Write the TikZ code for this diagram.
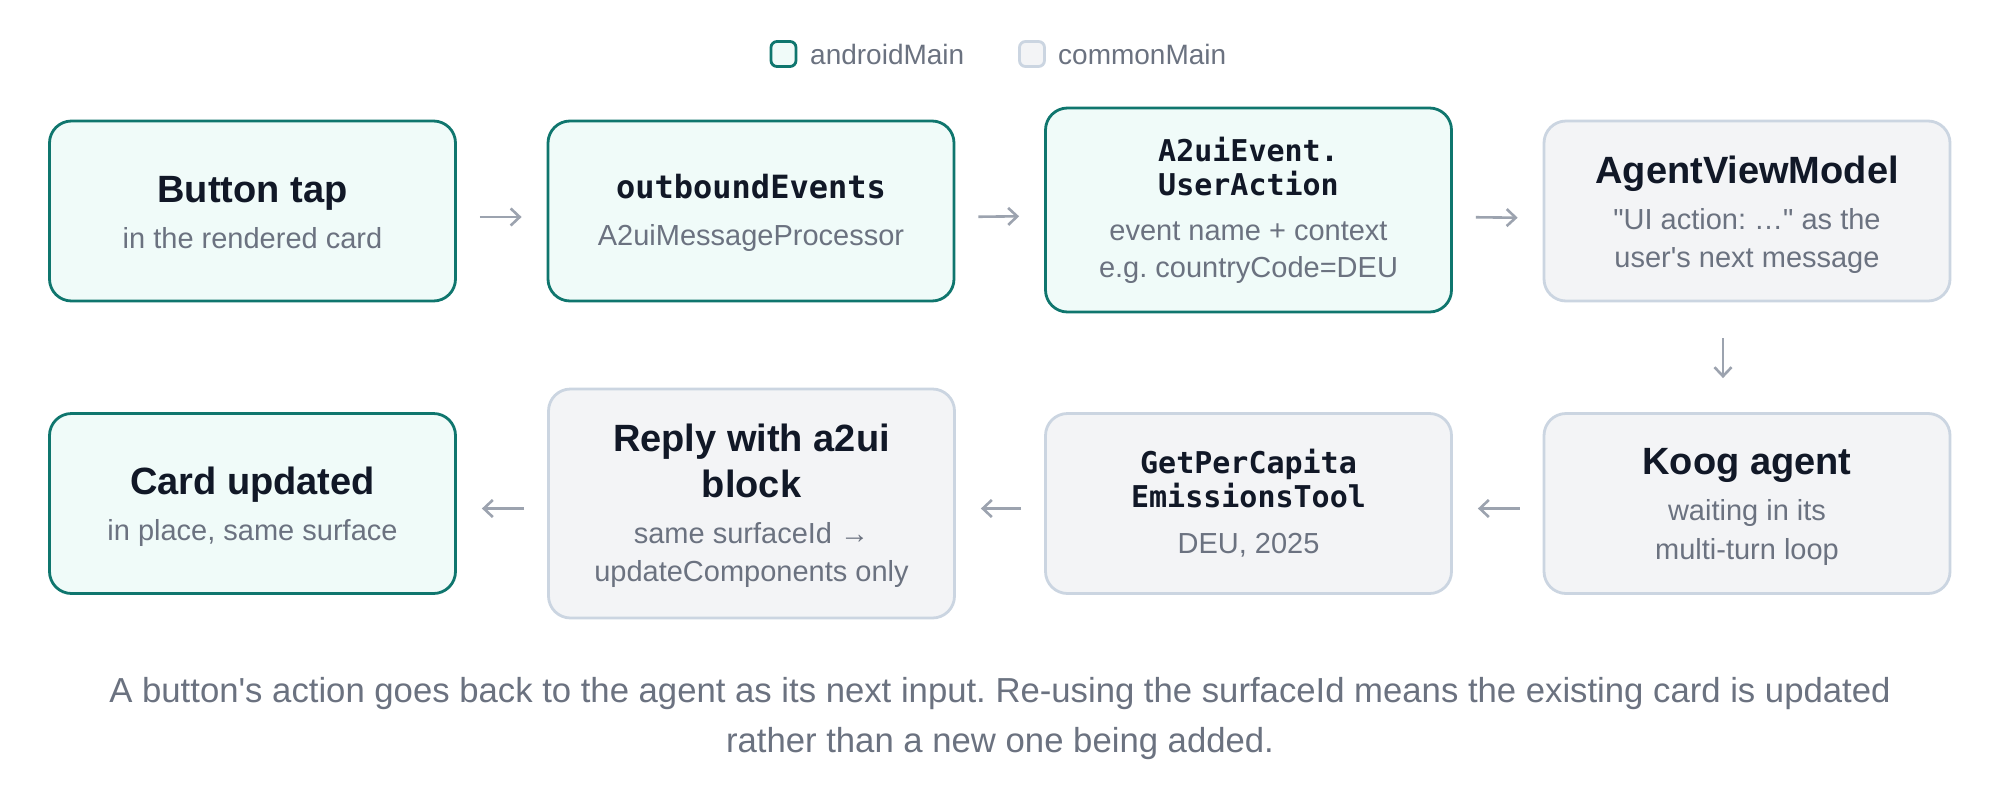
\documentclass[tikz,border=0pt]{standalone}
\usepackage{fontspec}
\setmainfont{Liberation Sans}[Ligatures=TeXOff]
\newfontfamily\monofam{DejaVu Sans Mono}[Ligatures=TeXOff]
\usetikzlibrary{arrows.meta}
\definecolor{tealb}{HTML}{0F766E}
\definecolor{mint}{HTML}{F0FBF9}
\definecolor{grayb}{HTML}{CBD5E1}
\definecolor{grayf}{HTML}{F3F4F6}
\definecolor{titlec}{HTML}{111827}
\definecolor{subc}{HTML}{6B7280}
\definecolor{arrowc}{HTML}{9CA3AF}
\frenchspacing
\begin{document}
\begin{tikzpicture}[x=1pt,y=-1pt,
  box/.style={rounded corners=22pt, line width=2.8pt, minimum width=406pt, minimum height=180pt, inner sep=0pt},
  andr/.style={box, draw=tealb, fill=mint},
  comm/.style={box, draw=grayb, fill=grayf},
  ttl/.style={anchor=base, text=titlec, font=\bfseries\fontsize{38}{46}\selectfont, inner sep=0pt},
  mttl/.style={anchor=base, text=titlec, font=\monofam\bfseries\fontsize{30}{34}\selectfont, inner sep=0pt},
  sub/.style={anchor=base, text=subc, font=\fontsize{29}{38}\selectfont, inner sep=0pt},
  legtxt/.style={anchor=base west, text=subc, font=\fontsize{28}{34}\selectfont, inner sep=0pt},
  legbox/.style={line width=2.8pt, rounded corners=6pt, minimum size=25pt, inner sep=0pt},
  caption/.style={anchor=base, text=subc, font=\fontsize{34.7}{50}\selectfont, inner sep=0pt},
  flow/.style={draw=arrowc, line width=2.6pt, -{Straight Barb[length=9pt,width=17pt,line width=2.6pt]}}
]
\useasboundingbox[fill=white] (0,0) rectangle (2000,801);

% legend
\node[legbox, draw=tealb, fill=mint] (lga) at (783.5,54) {};
\node[legtxt] (lgat) at (810,64) {androidMain};
\node[legbox, draw=grayb, fill=grayf] (lgc) at (1032,54) {};
\node[legtxt] (lgct) at (1058,64) {commonMain};

% boxes
\node[andr] (b1) at (252.5,211) {};
\node[andr] (b2) at (751,211) {};
\node[andr, minimum height=204pt] (b3) at (1248.5,210) {};
\node[comm] (b4) at (1747,211) {};
\node[andr] (b5) at (252.5,503.5) {};
\node[comm, minimum height=229pt] (b6) at (751.5,503.5) {};
\node[comm] (b7) at (1248.5,503.5) {};
\node[comm] (b8) at (1747,503.5) {};

% texts
\node[ttl] (t1) at (252.5,202) {Button tap};
\node[sub] (s1) at (252.5,248) {in the rendered card};

\node[mttl, font=\monofam\bfseries\fontsize{32}{36}\selectfont] (t2) at (751,198) {outboundEvents};
\node[sub] (s2) at (751,245) {A2uiMessageProcessor};

\node[mttl] (t3a) at (1248.5,161) {A2uiEvent.};
\node[mttl] (t3b) at (1248.5,195) {UserAction};
\node[sub] (s3a) at (1248.5,240) {event name + context};
\node[sub] (s3b) at (1248.5,277) {e.g. countryCode=DEU};

\node[ttl] (t4) at (1747,183) {AgentViewModel};
\node[sub] (s4a) at (1747,229) {"UI action: …" as the};
\node[sub] (s4b) at (1747,267) {user's next message};

\node[ttl] (t5) at (252.5,494) {Card updated};
\node[sub] (s5) at (252.5,540) {in place, same surface};

\node[ttl] (t6a) at (751.5,451) {Reply with a2ui};
\node[ttl] (t6b) at (751.5,497) {block};
\node[sub] (s6a) at (751.5,543) {same surfaceId →};
\node[sub] (s6b) at (751.5,581) {updateComponents only};

\node[mttl] (t7a) at (1248.5,473) {GetPerCapita};
\node[mttl] (t7b) at (1248.5,507) {EmissionsTool};
\node[sub] (s7) at (1248.5,553) {DEU, 2025};

\node[ttl] (t8) at (1747,474) {Koog agent};
\node[sub] (s8a) at (1747,520) {waiting in its};
\node[sub] (s8b) at (1747,559) {multi-turn loop};

% connectors
\draw[flow, shorten <=23pt, shorten >=25pt] ([yshift=-6pt]b1.east) -- ([yshift=-6pt]b2.west);
\draw[flow, shorten <=23pt, shorten >=25pt] ([yshift=-6pt]b2.east) -- ([yshift=-6pt]b3.west);
\draw[flow, shorten <=23pt, shorten >=25pt] ([yshift=-7pt]b3.east) -- ([yshift=-7pt]b4.west);
\draw[flow, shorten <=36pt, shorten >=34pt] ([xshift=-24pt]b4.south) -- ([xshift=-24pt]b8.north);
\draw[flow, shorten <=23pt, shorten >=25pt] ([yshift=-5pt]b8.west) -- ([yshift=-5pt]b7.east);
\draw[flow, shorten <=23pt, shorten >=25pt] ([yshift=-5pt]b7.west) -- ([yshift=-5pt]b6.east);
\draw[flow, shorten <=23pt, shorten >=25pt] ([yshift=-5pt]b6.west) -- ([yshift=-5pt]b5.east);

% caption
\node[caption] (c1) at (1000,702) {A button's action goes back to the agent as its next input. Re-using the surfaceId means the existing card is updated};
\node[caption] (c2) at (1000,752) {rather than a new one being added.};
\end{tikzpicture}
\end{document}
